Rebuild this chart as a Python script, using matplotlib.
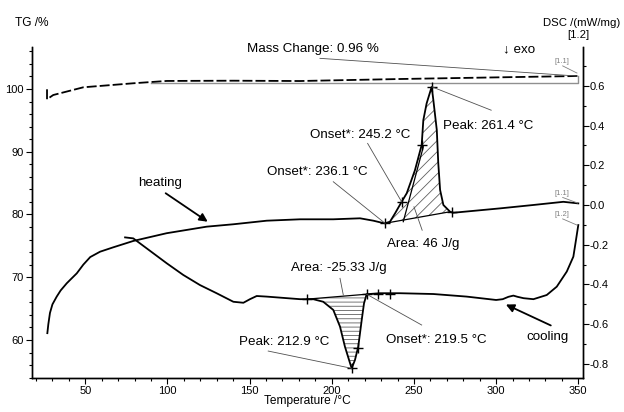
import numpy as np
import matplotlib
matplotlib.use('Agg')
import matplotlib.pyplot as plt
from matplotlib.ticker import MultipleLocator, FormatStrFormatter

plt.rcParams['font.family'] = ['Liberation Sans', 'DejaVu Sans']
plt.rcParams['hatch.linewidth'] = 0.6

# DSC heating run [1.1]
heat_T = [26.9, 27.5, 28.5, 30.0, 32.6, 35.0, 38.7, 41.0, 44.8, 48.8, 53.0, 59.0, 67.0,
          79.2, 99.5, 123.9, 140.1, 160.4, 180.7, 200.9, 217.2, 225.3, 229.3, 232.4,
          235.4, 238.5, 242.5, 245.6, 250.6, 254.7, 255.7, 257.7, 260.8, 261.8, 263.9,
          264.8, 265.9, 267.9, 272.0, 274.0, 302.4, 322.6, 340.9, 350.0]
heat_dsc = [-0.645, -0.600, -0.543, -0.500, -0.461, -0.430, -0.394, -0.375, -0.344,
            -0.300, -0.262, -0.235, -0.213, -0.181, -0.142, -0.109, -0.097, -0.079,
            -0.072, -0.072, -0.067, -0.079, -0.087, -0.092, -0.084, -0.042, 0.016,
            0.059, 0.175, 0.302, 0.427, 0.511, 0.595, 0.528, 0.377, 0.210, 0.076, 0.0,
            -0.034, -0.039, -0.017, 0.0, 0.016, 0.008]

# DSC cooling run [1.2]
cool_T = [350.0, 348.6, 347.0, 343.0, 336.9, 330.8, 322.7, 316.7, 313.0, 310.5, 307.5,
          304.0, 300.0, 282.1, 261.8, 241.5, 229.3, 221.2, 219.6, 218.2, 216.1, 214.1,
          212.1, 211.1, 208.0, 205.0, 200.9, 194.8, 188.7, 184.7, 180.7, 160.4, 154.3,
          150.2, 146.2, 140.1, 129.9, 119.8, 109.6, 99.5, 79.2, 74.2]
cool_dsc = [-0.101, -0.176, -0.260, -0.335, -0.411, -0.453, -0.474, -0.469, -0.462,
            -0.456, -0.462, -0.474, -0.478, -0.461, -0.448, -0.444, -0.444, -0.449,
            -0.495, -0.579, -0.713, -0.780, -0.822, -0.796, -0.713, -0.612, -0.528,
            -0.487, -0.474, -0.474, -0.474, -0.461, -0.458, -0.474, -0.492, -0.487,
            -0.444, -0.403, -0.352, -0.293, -0.168, -0.163]

# TG curve
tg_T = [26.7, 26.7, 30.5, 48.8, 79.2, 99.5, 140.1, 180.7, 241.5, 302.4, 350.0]
tg_val = [99.95, 98.36, 99.04, 100.27, 100.91, 101.28, 101.32, 101.27, 101.59, 101.86, 102.07]
tg_base_T = [90.0, 349.6, 349.6]
tg_base = [101.0, 101.0, 102.07]

# evaluation marks
heat_mark_T = [232.4, 242.5, 254.7, 260.8, 273.0]
heat_mark_dsc = [-0.092, 0.016, 0.302, 0.595, -0.036]
cool_mark_T = [184.7, 212.1, 216.1, 221.2, 228.3, 235.4]
cool_mark_dsc = [-0.474, -0.822, -0.721, -0.449, -0.448, -0.448]

heat_base_T = [232.4, 272.0]
heat_base_dsc = [-0.092, -0.034]
cool_base_T = [184.7, 221.2]
cool_base_dsc = [-0.474, -0.449]
tangent_T = [243.5, 255.7]
tangent_dsc = [-0.084, 0.293]

# (text, x, y, ha, leader line from, leader line to)
labels = [
    ('Mass Change: 0.96 %', 148.3, 0.784, 'left', (192.8, 0.738), (349.0, 0.649)),
    ('Peak: 261.4 °C', 267.7, 0.399, 'left', (260.8, 0.595), (297.0, 0.477)),
    ('Onset*: 245.2 °C', 247.9, 0.350, 'right', (221.8, 0.310), (242.5, 0.016)),
    ('Onset*: 236.1 °C', 221.8, 0.167, 'right', (200.9, 0.117), (232.4, -0.092)),
    ('Area: 46 J/g', 233.5, -0.197, 'left', (255.0, -0.127), (250.0, -0.009)),
    ('Area: -25.33 J/g', 233.6, -0.318, 'right', (205.0, -0.369), (207.0, -0.453)),
    ('Peak: 212.9 °C', 143.7, -0.688, 'left', (161.3, -0.735), (212.1, -0.822)),
    ('Onset*: 219.5 °C', 232.9, -0.680, 'left', (254.7, -0.604), (221.2, -0.449)),
]
small_labels = [
    ('[1.1]', 339.8, 0.722, (340.5, 0.700), (349.2, 0.664)),
    ('[1.1]', 339.8, 0.060, (340.5, 0.038), (349.6, 0.010)),
    ('[1.2]', 339.8, -0.050, (340.5, -0.070), (349.2, -0.101)),
]

fig = plt.figure(figsize=(6.24, 4.12), dpi=100)
ax = fig.add_axes([0.0513, 0.0833, 0.8825, 0.8026])
ax2 = ax.twinx()

ax.plot(tg_base_T, tg_base, color='#909090', lw=1.0)
ax.plot(tg_T, tg_val, color='k', lw=1.3, dashes=(5.5, 1.7))

ax2.plot(heat_T, heat_dsc, color='k', lw=1.3)
ax2.plot(cool_T, cool_dsc, color='k', lw=1.3)

# hatched peak areas
hT = np.array(heat_T)
hD = np.array(heat_dsc)
sel = (hT >= heat_base_T[0]) & (hT <= heat_base_T[1])
ax2.fill_between(hT[sel], hD[sel], np.interp(hT[sel], heat_base_T, heat_base_dsc),
                 facecolor='none', edgecolor='#606060', hatch='///', lw=0)
cT = np.array(cool_T)[::-1]
cD = np.array(cool_dsc)[::-1]
sel = (cT >= cool_base_T[0]) & (cT <= cool_base_T[1])
ax2.fill_between(cT[sel], cD[sel], np.interp(cT[sel], cool_base_T, cool_base_dsc),
                 facecolor='none', edgecolor='#606060', hatch='----', lw=0)
ax2.plot(heat_base_T, heat_base_dsc, color='k', lw=0.9)
ax2.plot(cool_base_T, cool_base_dsc, color='k', lw=0.9)
ax2.plot(tangent_T, tangent_dsc, color='k', lw=0.9)

ax2.plot(heat_mark_T, heat_mark_dsc, ls='none', marker='+', ms=7, mew=1.0, color='k')
ax2.plot(cool_mark_T, cool_mark_dsc, ls='none', marker='+', ms=7, mew=1.0, color='k')

for txt, x, y, ha, p0, p1 in labels:
    ax2.text(x, y, txt, ha=ha, va='center', fontsize=9.6, clip_on=False)
    ax2.plot([p0[0], p1[0]], [p0[1], p1[1]], color='#505050', lw=0.6)

for txt, x, y, p0, p1 in small_labels:
    ax2.text(x, y, txt, ha='center', va='center', fontsize=5.5, color='#808080')
    ax2.plot([p0[0], p1[0]], [p0[1], p1[1]], color='#808080', lw=0.6)

ax2.text(304.2, 0.784, '↓ exo', ha='left', va='center', fontsize=9.6)

ax2.text(95.2, 0.110, 'heating', ha='center', va='center', fontsize=9.6)
ax2.annotate('', xy=(125.9, -0.092), xytext=(97.5, 0.067),
             arrowprops=dict(arrowstyle='-|>', color='k', lw=1.3, mutation_scale=12))
ax2.text(331.3, -0.663, 'cooling', ha='center', va='center', fontsize=9.6)
ax2.annotate('', xy=(304.4, -0.495), xytext=(334.8, -0.612),
             arrowprops=dict(arrowstyle='-|>', color='k', lw=1.3, mutation_scale=12))

ax.set_xlim(17.57, 352.68)
ax.set_ylim(53.99, 106.69)
ax2.set_ylim(-0.869, 0.795)

ax.xaxis.set_major_locator(MultipleLocator(50))
ax.xaxis.set_minor_locator(MultipleLocator(10))
ax.yaxis.set_major_locator(MultipleLocator(10))
ax.yaxis.set_minor_locator(MultipleLocator(2))
ax2.yaxis.set_major_locator(MultipleLocator(0.2))
ax2.yaxis.set_minor_locator(MultipleLocator(0.1))
ax2.yaxis.set_major_formatter(FormatStrFormatter('%.1f'))

for a in (ax, ax2):
    a.spines['top'].set_visible(False)
    for s in a.spines.values():
        s.set_linewidth(1.0)
ax.tick_params(axis='both', which='major', direction='out', length=4, width=0.8,
               labelsize=8, pad=2, top=False, right=False)
ax.tick_params(axis='both', which='minor', direction='out', length=2, width=0.8,
               top=False, right=False)
ax2.tick_params(axis='y', which='major', direction='out', length=4, width=0.8,
                labelsize=8, pad=1)
ax2.tick_params(axis='y', which='minor', direction='out', length=2, width=0.8)

ax.set_xlabel('Temperature /°C', fontsize=8.6, labelpad=-1)
fig.text(31.5 / 624, 1 - 23.3 / 412, 'TG /%', ha='center', va='center', fontsize=8.6)
fig.text(543 / 624, 1 - 22.5 / 412, 'DSC /(mW/mg)', ha='left', va='center', fontsize=8.2)
fig.text(578 / 624, 1 - 35.5 / 412, '[1.2]', ha='center', va='center', fontsize=8.2)

fig.savefig('out.png', dpi=100)
